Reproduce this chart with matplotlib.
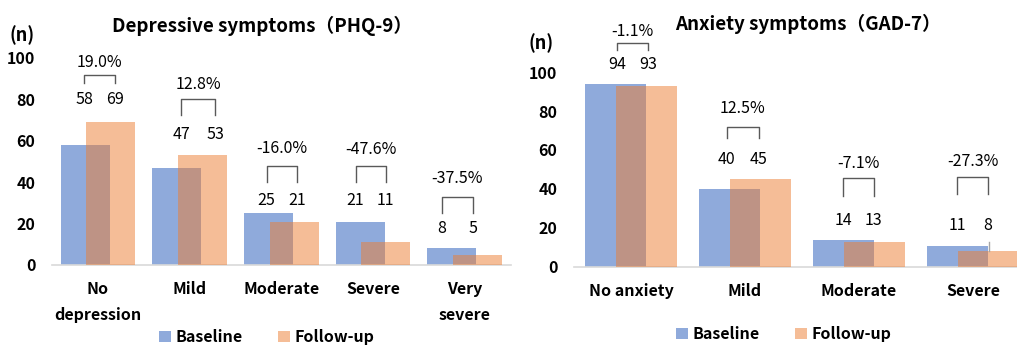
import matplotlib
matplotlib.use('Agg')
import matplotlib.pyplot as plt

plt.rcParams['font.family'] = ['Noto Sans CJK JP', 'DejaVu Sans']

# 抑うつ (PHQ-9)
dep_cats = ['No\ndepression', 'Mild', 'Moderate', 'Severe', 'Very\nsevere']
dep_base = [58, 47, 25, 21, 8]
dep_follow = [69, 53, 21, 11, 5]
dep_pct = ['19.0%', '12.8%', '-16.0%', '-47.6%', '-37.5%']

# 不安 (GAD-7)
anx_cats = ['No anxiety', 'Mild', 'Moderate', 'Severe']
anx_base = [94, 40, 14, 11]
anx_follow = [93, 45, 13, 8]
anx_pct = ['-1.1%', '12.5%', '-7.1%', '-27.3%']

y_ticks = [0, 20, 40, 60, 80, 100]

# annotation layout (where labels / brackets sit, in data units)
dep_num_y = [80, 63, 31, 31, 17.5]
dep_br = [(88, 92), (72.5, 80), (40, 48), (40, 48), (25, 33)]
dep_pct_y = [98, 87, 56.5, 56, 42]
dep_ann_x = [(-0.15, 0.19), (-0.09, 0.28), (-0.16, 0.17), (-0.19, 0.14), (-0.25, 0.09)]

anx_num_y = [104, 55, 23.6, 21.5]
anx_br = [(111.5, 115), (66, 72), (36.5, 45.5), (37.5, 46)]
anx_pct_y = [121, 81.5, 53, 54]
anx_ann_x = [(-0.12, 0.15), (-0.16, 0.12), (-0.14, 0.13), (-0.14, 0.13)]

BLUE = '#4472C4'
ORANGE = '#ED7D31'
GRAY = '#595959'
W = 0.535
OFF = 0.14


def draw_panel(ax, cats, base, follow, pct, num_y, br, pct_y, ann_x):
    x = list(range(len(cats)))
    ax.bar([i - OFF for i in x], base, W, color=BLUE, alpha=0.6, label='Baseline', zorder=2)
    ax.bar([i + OFF for i in x], follow, W, color=ORANGE, alpha=0.5, label='Follow-up', zorder=3)

    for i in x:
        xl = i + ann_x[i][0]
        xr = i + ann_x[i][1]
        lo, hi = br[i]
        ax.plot([xl, xl, xr, xr], [lo, hi, hi, lo], color=GRAY, lw=1, clip_on=False, zorder=4)
        ax.text(xl, num_y[i], str(base[i]), ha='center', va='center', fontsize=11.5)
        ax.text(xr, num_y[i], str(follow[i]), ha='center', va='center', fontsize=11.5)
        ax.text((xl + xr) / 2, pct_y[i], pct[i], ha='center', va='center', fontsize=11.5)

    ax.set_xlim(-0.5, len(cats) - 0.5)
    ax.set_ylim(0, 100)
    ax.set_yticks(y_ticks)
    ax.set_xticks(x)
    ax.set_xticklabels(cats, linespacing=1.75)
    ax.tick_params(length=0, labelsize=11.5)
    ax.tick_params(axis='y', pad=12)
    ax.tick_params(axis='x', pad=11.5)
    for lab in ax.get_xticklabels() + ax.get_yticklabels():
        lab.set_fontweight('bold')
    for s in ['left', 'top', 'right']:
        ax.spines[s].set_visible(False)
    ax.spines['bottom'].set_color('#D9D9D9')
    ax.spines['bottom'].set_linewidth(1.2)
    ax.set_facecolor('none')


fig = plt.figure(figsize=(10.17, 3.45), dpi=100)
ax1 = fig.add_axes([0.0512, 0.2319, 0.4508, 0.6])
ax2 = fig.add_axes([0.5644, 0.2261, 0.4484, 0.5652])

draw_panel(ax1, dep_cats, dep_base, dep_follow, dep_pct, dep_num_y, dep_br, dep_pct_y, dep_ann_x)
draw_panel(ax2, anx_cats, anx_base, anx_follow, anx_pct, anx_num_y, anx_br, anx_pct_y, anx_ann_x)

# 右パネル Severe の小さな線
ax2.plot([3 + OFF, 3 + OFF], [8, 13], color='#A6A6A6', lw=1, zorder=4)

fig.text(262 / 1017, 1 - 26 / 345, 'Depressive symptoms（PHQ-9）', ha='center', va='center',
         fontsize=13.5, fontweight='bold')
fig.text(808 / 1017, 1 - 24 / 345, 'Anxiety symptoms（GAD-7）', ha='center', va='center',
         fontsize=13.5, fontweight='bold')
fig.text(22 / 1017, 1 - 35 / 345, '(n)', ha='center', va='center', fontsize=13, fontweight='bold')
fig.text(541 / 1017, 1 - 43 / 345, '(n)', ha='center', va='center', fontsize=13, fontweight='bold')

for ax, cx, cy in [(ax1, 267, 337), (ax2, 784, 334)]:
    leg = ax.legend(loc='center', bbox_to_anchor=(cx / 1017, 1 - cy / 345),
                    bbox_transform=fig.transFigure, ncol=2, frameon=False,
                    handlelength=0.75, handleheight=0.75, handletextpad=0.3,
                    columnspacing=2.2, borderpad=0, fontsize=11.5)
    for t in leg.get_texts():
        t.set_fontweight('bold')

fig.savefig('out.png', dpi=100)
